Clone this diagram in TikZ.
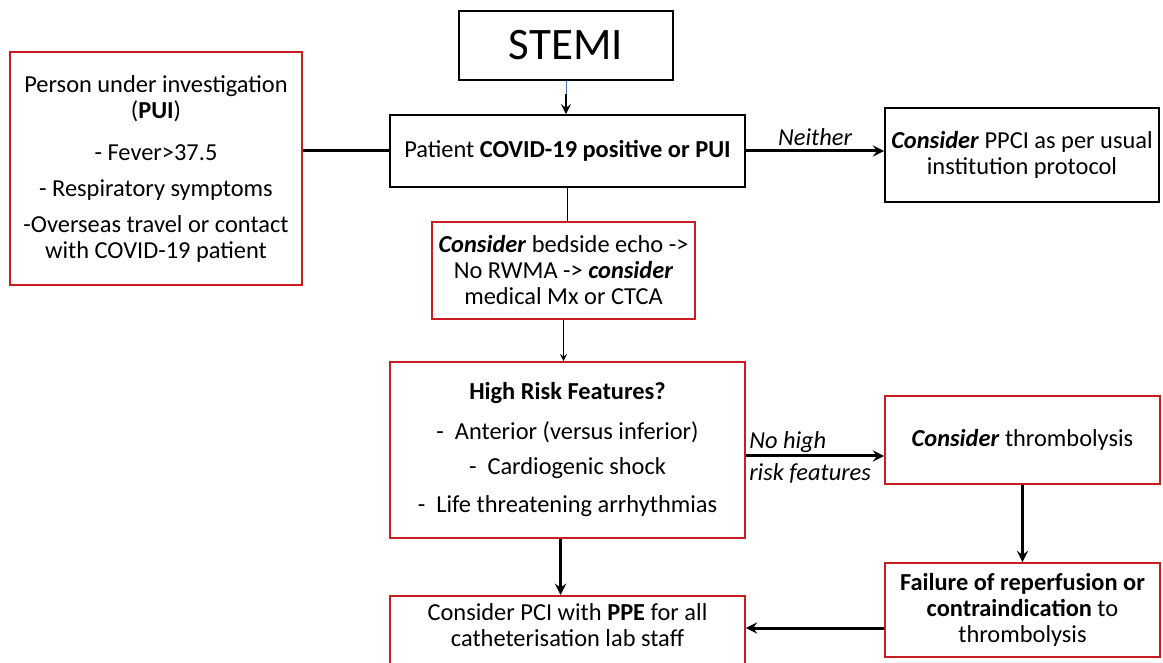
\documentclass[tikz,border=0pt]{standalone}
\usepackage{fontspec}
\setmainfont{Carlito}
\definecolor{boxred}{RGB}{200,30,35}
\definecolor{stemiblue}{RGB}{70,115,196}

\begin{document}
\begin{tikzpicture}[x=0.5pt, y=-0.5pt, >=stealth,
  every node/.style={font=\fontsize{12.2}{13}\selectfont, align=center, inner xsep=1pt, inner ysep=2pt},
  blackbox/.style={draw, line width=0.8pt},
  redbox/.style={draw=boxred, line width=0.8pt},
  flow/.style={->, line width=1.5pt}]
\useasboundingbox (0,0) rectangle (1163,663);

\node[blackbox, minimum width=107pt, minimum height=34.5pt, font=\fontsize{22.5}{27}\selectfont] (stemi) at (566,45.5) {STEMI};
\node[blackbox, minimum width=177.5pt, minimum height=36pt] (patient) at (567.5,151) {Patient \textbf{COVID-19 positive or PUI}};
\node[redbox, minimum width=146pt, minimum height=116.5pt] (pui) at (156,168.5) {Person under investigation\\(\textbf{PUI})\\[8pt]- Fever>37.5\\[5pt]- Respiratory symptoms\\[5pt]-Overseas travel or contact\\with COVID-19 patient};
\node[blackbox, minimum width=137pt, minimum height=47pt] (ppci) at (1022,155) {\textbf{\textit{Consider}} PPCI as per usual\\institution protocol};
\node[redbox, minimum width=131.5pt, minimum height=48.5pt] (echo) at (563.5,270.5) {\textbf{\textit{Consider}} bedside echo ->\\No RWMA -> \textbf{\textit{consider}}\\medical Mx or CTCA};
\node[redbox, minimum width=177.5pt, minimum height=88pt] (highrisk) at (567.5,450) {\textbf{High Risk Features?}\\[7pt]-\ \ Anterior (versus inferior)\\[4.5pt]-\ \ Cardiogenic shock\\[6pt]-\ \ Life threatening arrhythmias};
\node[redbox, minimum width=137.5pt, minimum height=44pt] (thrombo) at (1022.5,440) {\textbf{\textit{Consider}} thrombolysis};
\node[redbox, minimum width=137.5pt, minimum height=47pt] (failure) at (1022.5,610) {\textbf{Failure of reperfusion or}\\\textbf{contraindication} to\\thrombolysis};
\node[redbox, minimum width=177.5pt, anchor=north, inner ysep=4pt, text depth=30pt] (pci) at (567.5,595) {Consider PCI with \textbf{PPE} for all\\catheterisation lab staff};

% connectors
\draw[stemiblue, line width=0.5pt] (stemi.south) -- ++(0,13) coordinate (stemidrop);
\draw[->, line width=1.2pt] (stemidrop) -- (stemidrop |- patient.north);
\draw[line width=1.5pt] (pui.east |- patient) -- (patient.west);
\draw[flow] (patient.east) -- (patient.east -| ppci.west) node[midway, above, font=\fontsize{12.2}{13}\selectfont\itshape] {Neither};
\draw[line width=0.8pt] (patient.south) -- (patient.south |- echo.north);
\draw[->, line width=0.6pt] (echo.south) -- (echo.south |- highrisk.north);
\draw[flow] ([yshift=-3pt]highrisk.east) -- ([yshift=-3pt]highrisk.east -| thrombo.west)
  node[pos=0, anchor=south west, inner xsep=1pt, inner ysep=1pt, font=\fontsize{12.2}{13}\selectfont\itshape] {No high}
  node[pos=0, anchor=north west, inner xsep=1pt, inner ysep=3pt, font=\fontsize{12.2}{13}\selectfont\itshape] {risk features};
\draw[flow] (thrombo.south) -- (failure.north);
\draw[flow] ([xshift=-3.5pt]highrisk.south) -- ([xshift=-3.5pt]highrisk.south |- pci.north);
\draw[flow] ([yshift=-9pt]failure.west) -- ([yshift=-9pt]failure.west -| pci.east);
\end{tikzpicture}
\end{document}
